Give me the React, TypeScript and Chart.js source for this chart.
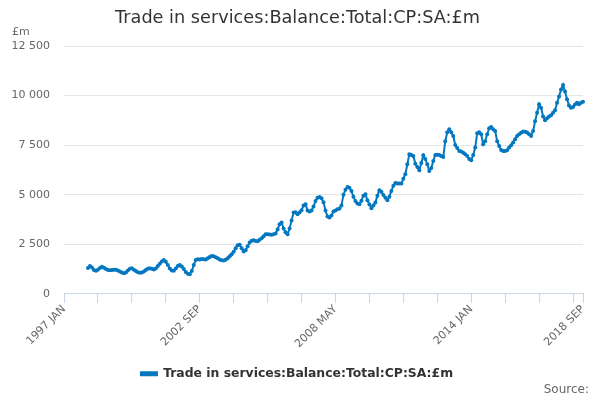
import { Chart, registerables } from "chart.js";
import { useEffect, useRef } from "react";

Chart.register(...registerables);

const TITLE = "Trade in services:Balance:Total:CP:SA:£m";
const UNIT = "£m";
const SOURCE = "Source:";
const LINE_COLOR = "#0477bf";

const MONTHS = ["JAN", "FEB", "MAR", "APR", "MAY", "JUN", "JUL", "AUG", "SEP", "OCT", "NOV", "DEC"];
const FIRST_YEAR = 1997;
const LAST_YEAR = 2018;
const LAST_MONTH = 9; // SEP

const categories: string[] = [];
for (let y = FIRST_YEAR; y <= LAST_YEAR; y++) {
  for (let m = 0; m < 12; m++) {
    if (y === LAST_YEAR && m >= LAST_MONTH) break;
    categories.push(`${y} ${MONTHS[m]}`);
  }
}

// monthly balance, £m (1997 has no values)
const balance: (number | null)[] = [
  // 1997
  null, null, null, null, null, null, null, null, null, null, null, null,
  // 1998
  1300, 1400, 1330, 1200, 1160, 1220, 1300, 1360, 1320, 1250, 1200, 1190,
  // 1999
  1200, 1210, 1220, 1180, 1120, 1070, 1040, 1080, 1180, 1270, 1290, 1220,
  // 2000
  1150, 1090, 1060, 1070, 1130, 1200, 1270, 1290, 1260, 1230, 1280, 1400,
  // 2001
  1520, 1630, 1700, 1620, 1450, 1280, 1170, 1160, 1280, 1400, 1450, 1380,
  // 2002
  1250, 1100, 1010, 990, 1150, 1450, 1700, 1740, 1730, 1750, 1740, 1730,
  // 2003
  1790, 1860, 1910, 1900, 1850, 1790, 1730, 1690, 1680, 1720, 1800, 1900,
  // 2004
  2000, 2120, 2300, 2450, 2470, 2300, 2140, 2200, 2400, 2590, 2680, 2705,
  // 2005
  2670, 2650, 2730, 2806, 2900, 3000, 3010, 2990, 2974, 3000, 3040, 3250,
  // 2006
  3511, 3595, 3300, 3100, 3007, 3300, 3700, 4100, 4120, 4015, 4100, 4217,
  // 2007
  4450, 4520, 4200, 4150, 4200, 4400, 4687, 4850, 4889, 4820, 4620, 4200,
  // 2008
  3900, 3847, 3950, 4149, 4200, 4268, 4300, 4450, 5000, 5250, 5393, 5350,
  // 2009
  5191, 4900, 4687, 4550, 4520, 4700, 4950, 5025, 4722, 4500, 4320, 4450,
  // 2010
  4602, 4950, 5227, 5150, 4990, 4850, 4722, 4900, 5191, 5450, 5594, 5570,
  // 2011
  5560, 5560, 5800, 6033, 6537, 7041, 7000, 6955, 6567, 6400, 6235, 6600,
  // 2012
  6990, 6800, 6537, 6199, 6350, 6700, 7006, 7020, 7006, 6950, 6905, 7700,
  // 2013
  8150, 8300, 8150, 7963, 7510, 7350, 7200, 7174, 7120, 7040, 6950, 6800,
  // 2014
  6737, 7000, 7376, 8100, 8150, 8048, 7550, 7700, 8048, 8350, 8417, 8300,
  // 2015
  8215, 7700, 7450, 7250, 7207, 7210, 7241, 7380, 7500, 7627, 7800, 7963,
  // 2016
  8050, 8120, 8182, 8170, 8131, 8050, 7963, 8215, 8700, 9138, 9561, 9390,
  // 2017
  8950, 8754, 8850, 8950, 9006, 9130, 9258, 9642, 9950, 10300, 10533, 10200,
  // 2018
  9813, 9500, 9390, 9424, 9550, 9642, 9561, 9642, 9692,
];

const Y_MAX = 12500;
const Y_STEP = 2500;
const TICK_EVERY = 17;
const LABEL_EVERY = 68;

const withSpaces = (v: number) => String(v).replace(/\B(?=(\d{3})+(?!\d))/g, " ");

// title, unit label and source line drawn straight on the canvas
const extraText = {
  id: "extraText",
  afterDraw(chart: any) {
    const ctx = chart.ctx;
    ctx.save();
    ctx.textBaseline = "middle";
    ctx.fillStyle = "#333333";
    ctx.font = "17.7px 'DejaVu Sans'";
    ctx.textAlign = "center";
    ctx.fillText(TITLE, 297.5, 18);
    ctx.fillStyle = "#666666";
    ctx.font = "11px 'DejaVu Sans'";
    ctx.textAlign = "left";
    ctx.fillText(UNIT, 12, 32);
    ctx.font = "12px 'DejaVu Sans'";
    ctx.textAlign = "right";
    ctx.fillText(SOURCE, 589, 390);
    ctx.restore();
  },
};

const App = () => {
  const chartRef = useRef<HTMLCanvasElement>(null);
  const chartInstance = useRef<Chart | null>(null);

  useEffect(() => {
    document.body.style.margin = "0";
    const canvas = chartRef.current;
    if (!canvas) return;
    const ctx = canvas.getContext("2d");
    if (!ctx) return;

    if (chartInstance.current) {
      chartInstance.current.destroy();
    }

    const last = categories.length - 1;

    chartInstance.current = new Chart(ctx, {
      type: "line",
      data: {
        labels: categories,
        datasets: [
          {
            label: TITLE,
            data: balance,
            borderColor: LINE_COLOR,
            backgroundColor: LINE_COLOR,
            borderWidth: 2,
            pointRadius: 2,
            pointBorderWidth: 0,
            pointBackgroundColor: LINE_COLOR,
            tension: 0,
          },
        ],
      },
      options: {
        animation: false,
        responsive: true,
        maintainAspectRatio: false,
        layout: { padding: { left: 11, right: 17, top: 46, bottom: 10 } },
        plugins: {
          title: { display: false },
          legend: {
            position: "bottom",
            labels: {
              color: "#333333",
              font: { family: "'DejaVu Sans'", size: 12.4, weight: "bold" },
              boxWidth: 16,
              boxHeight: 3,
              padding: 14,
            },
          },
          tooltip: { enabled: false },
        },
        scales: {
          x: {
            type: "category",
            offset: false,
            border: { color: "#ccd6eb" },
            afterFit: (s: any) => {
              s.paddingLeft = 0;
              s.paddingRight = 0;
              s.height = s.height + 3;
            },
            grid: {
              drawOnChartArea: false,
              drawTicks: true,
              tickLength: 9,
              color: (c: any) =>
                c.index % TICK_EVERY === 0 || c.index === last ? "#ccd6eb" : "rgba(0,0,0,0)",
            },
            ticks: {
              autoSkip: false,
              maxRotation: 45,
              minRotation: 45,
              padding: 0,
              color: "#666666",
              font: { family: "'DejaVu Sans'", size: 11 },
              callback: (_v: any, i: number) =>
                i % LABEL_EVERY === 0 || i === last ? categories[i] : "",
            },
          },
          y: {
            min: 0,
            max: Y_MAX,
            border: { display: false },
            afterFit: (s: any) => {
              s.width = 53;
            },
            grid: { color: "#e6e6e6", drawTicks: false },
            ticks: {
              stepSize: Y_STEP,
              padding: 14,
              color: "#666666",
              font: { family: "'DejaVu Sans'", size: 11 },
              callback: (v: any) => withSpaces(Number(v)),
            },
          },
        },
      },
      plugins: [extraText],
    });

    return () => {
      if (chartInstance.current) {
        chartInstance.current.destroy();
        chartInstance.current = null;
      }
    };
  }, []);

  return (
    <div style={{ width: 600, height: 400, position: "relative" }}>
      <canvas ref={chartRef} />
    </div>
  );
};

export default App;
